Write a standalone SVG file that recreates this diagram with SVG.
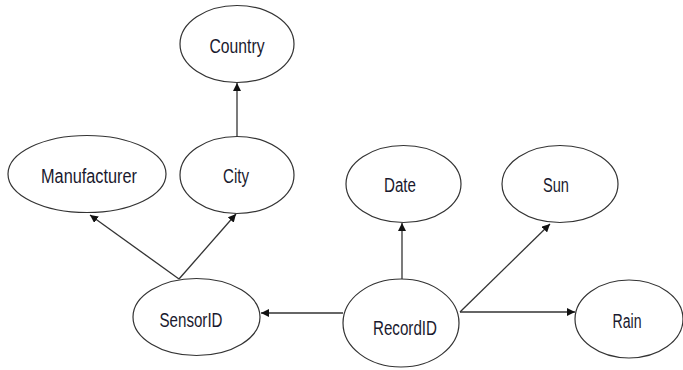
<svg xmlns="http://www.w3.org/2000/svg" width="683" height="370" viewBox="0 0 683 370">
  <style>
    .node ellipse { fill: #ffffff; stroke: #333333; stroke-width: 1.2; }
    .node text { font-family: "Liberation Sans", Arial, sans-serif; font-size: 20px; fill: #1a1a2e; text-anchor: middle; }
    .edge { stroke: #333333; stroke-width: 1.3; fill: none; }
    .edge-arrow { marker-end: url(#arrow); }
  </style>
  <defs>
    <marker id="arrow" viewBox="0 0 10 10" refX="10" refY="5" markerWidth="8" markerHeight="8" markerUnits="userSpaceOnUse" orient="auto">
      <path d="M0,0 L10,5 L0,10 z" fill="#111111"/>
    </marker>
  </defs>
  <rect width="683" height="370" fill="#ffffff"/>

  <g id="connectors">
    <line class="edge edge-arrow" x1="237" y1="136" x2="237" y2="83"/>
    <line class="edge edge-arrow" x1="179" y1="279" x2="90" y2="215"/>
    <line class="edge edge-arrow" x1="179" y1="279" x2="236" y2="214"/>
    <line class="edge edge-arrow" x1="343" y1="313" x2="261" y2="313"/>
    <line class="edge edge-arrow" x1="402" y1="279" x2="402" y2="223"/>
    <line class="edge edge-arrow" x1="460" y1="312" x2="550" y2="224"/>
    <line class="edge edge-arrow" x1="460" y1="312" x2="575" y2="312"/>
  </g>

  <g id="country" class="node">
    <ellipse cx="237" cy="44" rx="57" ry="38.5"/>
    <text x="237" y="53" textLength="55" lengthAdjust="spacingAndGlyphs">Country</text>
  </g>
  <g id="manufacturer" class="node">
    <ellipse cx="87" cy="174" rx="79" ry="38.5"/>
    <text x="89" y="183" textLength="96" lengthAdjust="spacingAndGlyphs">Manufacturer</text>
  </g>
  <g id="city" class="node">
    <ellipse cx="237" cy="175" rx="57" ry="38.5"/>
    <text x="236" y="183" textLength="26" lengthAdjust="spacingAndGlyphs">City</text>
  </g>
  <g id="date" class="node">
    <ellipse cx="403.5" cy="184" rx="57.5" ry="38.5"/>
    <text x="400" y="192" textLength="32" lengthAdjust="spacingAndGlyphs">Date</text>
  </g>
  <g id="sun" class="node">
    <ellipse cx="560" cy="184" rx="58" ry="38.5"/>
    <text x="556" y="192" textLength="26" lengthAdjust="spacingAndGlyphs">Sun</text>
  </g>
  <g id="sensorid" class="node">
    <ellipse cx="196.5" cy="317" rx="63.5" ry="38.5"/>
    <text x="191" y="327" textLength="63" lengthAdjust="spacingAndGlyphs">SensorID</text>
  </g>
  <g id="recordid" class="node">
    <ellipse cx="401" cy="323" rx="58" ry="44"/>
    <text x="405" y="335" textLength="64" lengthAdjust="spacingAndGlyphs">RecordID</text>
  </g>
  <g id="rain" class="node">
    <ellipse cx="629" cy="319" rx="54" ry="39"/>
    <text x="627" y="328" textLength="29" lengthAdjust="spacingAndGlyphs">Rain</text>
  </g>
</svg>
